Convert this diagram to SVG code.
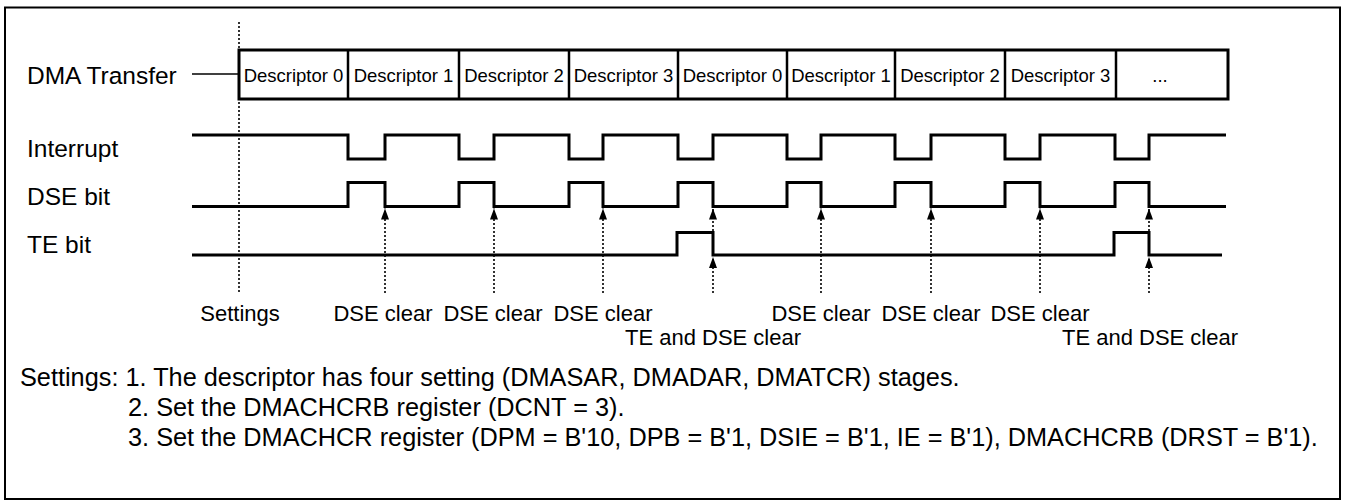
<svg xmlns="http://www.w3.org/2000/svg" width="1345" height="502" viewBox="0 0 1345 502">
<defs>
<style>
text{font-family:"Liberation Sans",Arial,sans-serif;fill:#000}
.lbl{font-size:24.5px}
.desc{font-size:18.5px;text-anchor:middle}
.ev{font-size:22px;text-anchor:middle}
.note{font-size:25.3px}
.wave{fill:none;stroke:#000;stroke-width:3;stroke-linejoin:miter}
.box{fill:#fff;stroke:#000;stroke-width:3}
.div{stroke:#000;stroke-width:2.5}
.dot{stroke:#000;stroke-width:1.6;stroke-dasharray:2 2;fill:none}
.arr{stroke:#000;stroke-width:1.6;stroke-dasharray:2 2;fill:none;marker-end:url(#ah)}
.solid{stroke:#000;stroke-width:1.5;fill:none}
</style>
<marker id="ah" markerUnits="userSpaceOnUse" markerWidth="11" markerHeight="8" refX="11" refY="4" orient="auto">
<path d="M0,0 L11,4 L0,8 z" fill="#000" stroke="none"/>
</marker>
</defs>
<rect width="1345" height="502" fill="#fff"/>
<g id="frame">
<rect x="5" y="7.5" width="1335" height="491.5" fill="none" stroke="#000" stroke-width="2"/>
</g>
<g id="dma-transfer">
<text class="lbl" x="27" y="84">DMA Transfer</text>
<rect class="box" x="239" y="50" width="989" height="49"/>
<line class="div" x1="348" y1="50" x2="348" y2="99"/>
<line class="div" x1="459" y1="50" x2="459" y2="99"/>
<line class="div" x1="569" y1="50" x2="569" y2="99"/>
<line class="div" x1="678" y1="50" x2="678" y2="99"/>
<line class="div" x1="787" y1="50" x2="787" y2="99"/>
<line class="div" x1="895" y1="50" x2="895" y2="99"/>
<line class="div" x1="1005" y1="50" x2="1005" y2="99"/>
<line class="div" x1="1116" y1="50" x2="1116" y2="99"/>
<text class="desc" x="293.5" y="81.5">Descriptor 0</text>
<text class="desc" x="403.5" y="81.5">Descriptor 1</text>
<text class="desc" x="514" y="81.5">Descriptor 2</text>
<text class="desc" x="623.5" y="81.5">Descriptor 3</text>
<text class="desc" x="732.5" y="81.5">Descriptor 0</text>
<text class="desc" x="841" y="81.5">Descriptor 1</text>
<text class="desc" x="950" y="81.5">Descriptor 2</text>
<text class="desc" x="1060.5" y="81.5">Descriptor 3</text>
<text class="desc" x="1160" y="81.5">...</text>
</g>
<g id="interrupt">
<text class="lbl" x="27" y="156.5">Interrupt</text>
<path class="wave" d="M192,135 H348 V159 H385 V135 H459 V159 H494 V135 H569 V159 H603 V135 H678 V159 H713 V135 H787 V159 H821 V135 H895 V159 H931 V135 H1005 V159 H1040 V135 H1115 V159 H1149 V135 H1226"/>
</g>
<g id="dse-bit">
<text class="lbl" x="27" y="204.5">DSE bit</text>
<path class="wave" d="M192,206.5 H348 V182.5 H385 V206.5 H459 V182.5 H494 V206.5 H569 V182.5 H603 V206.5 H678 V182.5 H713 V206.5 H787 V182.5 H821 V206.5 H895 V182.5 H931 V206.5 H1005 V182.5 H1040 V206.5 H1115 V182.5 H1149 V206.5 H1226"/>
</g>
<g id="te-bit">
<text class="lbl" x="27" y="252.5">TE bit</text>
<path class="wave" d="M192,255 H677 V232.5 H713 V255 H1114 V232.5 H1149 V255 H1222"/>
</g>
<g id="connectors">
<line class="solid" x1="192" y1="74" x2="239" y2="74"/>
<line class="dot" x1="239" y1="22" x2="239" y2="293"/>
<line class="arr" x1="385" y1="293" x2="385" y2="208.5"/>
<line class="arr" x1="494" y1="293" x2="494" y2="208.5"/>
<line class="arr" x1="603" y1="293" x2="603" y2="208.5"/>
<line class="arr" x1="713" y1="231" x2="713" y2="208.5"/>
<line class="arr" x1="713" y1="293" x2="713" y2="257"/>
<line class="arr" x1="821" y1="293" x2="821" y2="208.5"/>
<line class="arr" x1="931" y1="293" x2="931" y2="208.5"/>
<line class="arr" x1="1040" y1="293" x2="1040" y2="208.5"/>
<line class="arr" x1="1149" y1="231" x2="1149" y2="208.5"/>
<line class="arr" x1="1149" y1="293" x2="1149" y2="257"/>
</g>
<g id="event-labels">
<text class="ev" x="240" y="321">Settings</text>
<text class="ev" x="383" y="321">DSE clear</text>
<text class="ev" x="493" y="321">DSE clear</text>
<text class="ev" x="603" y="321">DSE clear</text>
<text class="ev" x="713" y="345">TE and DSE clear</text>
<text class="ev" x="821" y="321">DSE clear</text>
<text class="ev" x="931" y="321">DSE clear</text>
<text class="ev" x="1040" y="321">DSE clear</text>
<text class="ev" x="1150" y="345">TE and DSE clear</text>
</g>
<g id="notes">
<text class="note" x="20" y="386">Settings: 1. The descriptor has four setting (DMASAR, DMADAR, DMATCR) stages.</text>
<text class="note" x="128" y="416">2. Set the DMACHCRB register (DCNT = 3).</text>
<text class="note" x="128" y="446">3. Set the DMACHCR register (DPM = B'10, DPB = B'1, DSIE = B'1, IE = B'1), DMACHCRB (DRST = B'1).</text>
</g>
</svg>
